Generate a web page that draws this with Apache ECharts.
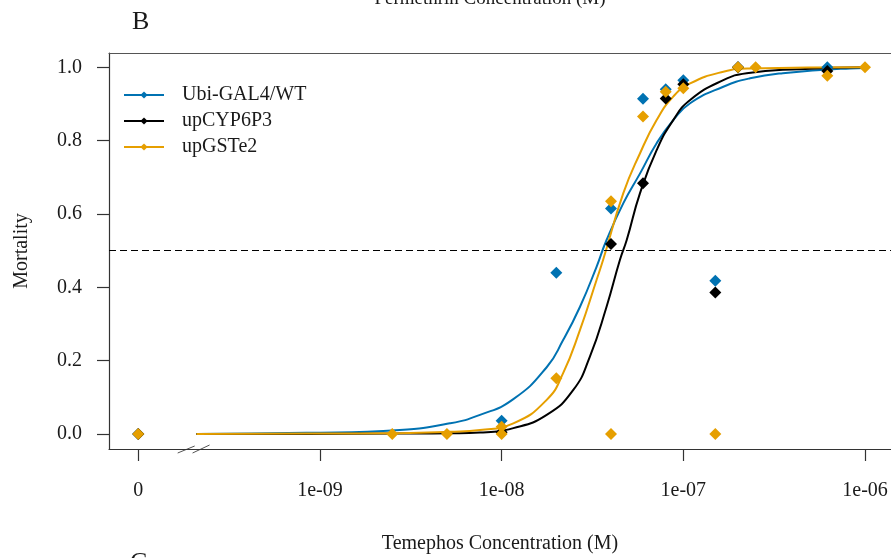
<!DOCTYPE html>
<html><head><meta charset="utf-8">
<script src="https://cdn.jsdelivr.net/npm/echarts@6/dist/echarts.min.js"></script>
<style>html,body{margin:0;padding:0;background:#fff}#c{width:891px;height:558px}</style>
</head><body><div id="c"></div>
<script>
// ---- data ----
const seriesNames = ['Ubi-GAL4/WT', 'upCYP6P3', 'upGSTe2'];
const seriesColors = ['#0072B2', '#000000', '#E69F00'];
const xTickValues = [0, 1e-9, 1e-8, 1e-7, 1e-6];
const xTickLabels = ['0', '1e-09', '1e-08', '1e-07', '1e-06'];
const yTickValues = [0, 0.2, 0.4, 0.6, 0.8, 1.0];
const yTickLabels = ['0.0', '0.2', '0.4', '0.6', '0.8', '1.0'];
const threshold = 0.5;

// observed mortality: [concentration (M), mortality]
const pointsWT = [[0,0],[1e-8,0.036],[2e-8,0.44],[4e-8,0.615],[6e-8,0.914],[8e-8,0.94],[1e-7,0.965],[1.5e-7,0.418],[2e-7,1.0],[6.2e-7,1.0]];
const pointsCYP = [[0,0],[1e-8,0.005],[4e-8,0.518],[6e-8,0.684],[8e-8,0.915],[1e-7,0.954],[1.5e-7,0.386],[2e-7,1.0],[6.2e-7,0.99]];
const pointsGST = [[0,0],[2.5e-9,0],[5e-9,0],[1e-8,0.02],[1e-8,0],[2e-8,0.152],[4e-8,0.635],[4e-8,0],[6e-8,0.866],[8e-8,0.933],[1e-7,0.943],[1.5e-7,0],[2e-7,1.0],[2.5e-7,1.0],[6.2e-7,0.977],[1e-6,1.0]];

// fitted dose-response curves
const curveWT = [[2.09e-10,0],[8.45e-10,0.003],[2.75e-9,0.011],[5.19e-9,0.029],[7.6e-9,0.052],[1.16e-8,0.095],[1.77e-8,0.182],[2.18e-8,0.256],[2.7e-8,0.347],[3.33e-8,0.456],[3.78e-8,0.529],[4.67e-8,0.629],[5.77e-8,0.71],[7.13e-8,0.793],[8.8e-8,0.856],[1.09e-7,0.902],[1.66e-7,0.947],[2.33e-7,0.97],[3.53e-7,0.984],[8.26e-7,0.997],[1e-6,0.998]];
const curveCYP = [[2.09e-10,0],[8.45e-10,0],[2.75e-9,0.001],[5.19e-9,0.002],[7.6e-9,0.004],[1.16e-8,0.016],[1.77e-8,0.052],[2.48e-8,0.12],[3.06e-8,0.211],[3.78e-8,0.347],[4.48e-8,0.475],[4.88e-8,0.529],[5.77e-8,0.656],[7.13e-8,0.774],[8.8e-8,0.856],[1.09e-7,0.911],[1.66e-7,0.965],[2.23e-7,0.984],[4.38e-7,0.995],[1e-6,1.0]];
const curveGST = [[2.09e-10,0],[8.45e-10,0.001],[2.75e-9,0.002],[5.19e-9,0.006],[7.6e-9,0.011],[1.16e-8,0.029],[1.77e-8,0.093],[2.18e-8,0.166],[2.7e-8,0.284],[3.33e-8,0.42],[3.62e-8,0.475],[4.67e-8,0.656],[5.77e-8,0.765],[7.13e-8,0.856],[8.8e-8,0.92],[1.09e-7,0.956],[1.66e-7,0.988],[2.33e-7,0.997],[1e-6,1.0]];

// ---- chart ----
const ZERO_POS = -10; // where concentration 0 sits on the broken log axis
const toX = c => (c === 0 ? ZERO_POS : Math.log10(c));
const mapPts = arr => arr.map(p => [toX(p[0]), p[1]]);
const FONT = 'Liberation Serif';
const TXT = '#1a1a1a';
const AX = '#333';

const xTickPos = xTickValues.map(toX);
const xLabelFor = v => {
  for (let k = 0; k < xTickPos.length; k++) if (Math.abs(v - xTickPos[k]) < 1e-6) return xTickLabels[k];
  return '';
};
const yLabelFor = v => {
  for (let k = 0; k < yTickValues.length; k++) if (Math.abs(v - yTickValues[k]) < 1e-6) return yTickLabels[k];
  return '';
};

const curves = [curveWT, curveCYP, curveGST];
const points = [pointsWT, pointsCYP, pointsGST];
const series = [];
curves.forEach((c, i) => series.push({
  name: seriesNames[i], type: 'line', data: mapPts(c),
  smooth: 0.5, symbol: 'diamond', showSymbol: false,
  lineStyle: { color: seriesColors[i], width: 2 }, itemStyle: { color: seriesColors[i] },
  silent: true, z: 2,
  markLine: i === 0 ? {
    silent: true, symbol: 'none', label: { show: false },
    lineStyle: { color: '#000', width: 1.2, type: [7, 4] },
    data: [{ yAxis: threshold }]
  } : undefined
}));
points.forEach((p, i) => series.push({
  name: seriesNames[i], type: 'scatter', data: mapPts(p),
  symbol: 'diamond', symbolSize: 12, itemStyle: { color: seriesColors[i], opacity: 1 }, z: 3
}));

const chart = echarts.init(document.getElementById('c'));
chart.setOption({
  animation: false,
  backgroundColor: '#fff',
  grid: { left: 109, top: 53, right: 0, bottom: 109, containLabel: false, outerBoundsMode: 'none' },
  legend: {
    orient: 'vertical', left: 118, top: 80, itemWidth: 40, itemHeight: 9, itemGap: 6,
    data: seriesNames,
    textStyle: { fontFamily: FONT, fontSize: 20, color: TXT, lineHeight: 20, padding: [0, 0, 0, 13] }
  },
  xAxis: [{
    type: 'value', min: -10.161, max: -5.857, position: 'bottom',
    axisLine: { show: true, onZero: false, lineStyle: { color: AX, width: 1.2 } },
    axisTick: { show: true, length: 12, customValues: xTickPos, lineStyle: { color: AX, width: 1.2 } },
    axisLabel: { customValues: xTickPos, formatter: xLabelFor, margin: 32, fontFamily: FONT, fontSize: 20, color: TXT },
    splitLine: { show: false },
    name: 'Temephos Concentration (M)', nameLocation: 'middle', nameGap: 85,
    nameTextStyle: { fontFamily: FONT, fontSize: 20, color: TXT }
  }, {
    type: 'value', min: -10.161, max: -5.857, position: 'top',
    axisLine: { show: true, onZero: false, lineStyle: { color: '#555', width: 1.2 } },
    axisTick: { show: false }, axisLabel: { show: false }, splitLine: { show: false }
  }],
  yAxis: {
    type: 'value', min: -0.041, max: 1.039,
    axisLine: { show: true, onZero: false, lineStyle: { color: AX, width: 1.2 } },
    axisTick: { show: true, length: 12, customValues: yTickValues, lineStyle: { color: AX, width: 1.2 } },
    axisLabel: { customValues: yTickValues, formatter: yLabelFor, margin: 27, fontFamily: FONT, fontSize: 20, color: TXT },
    splitLine: { show: false },
    name: 'Mortality', nameLocation: 'middle', nameGap: 77, nameRotate: 90,
    nameTextStyle: { fontFamily: FONT, fontSize: 20, color: TXT }
  },
  series: series
});

// decorations: panel letters, neighbouring panel title, axis break marks
const axisY = chart.convertToPixel({ gridIndex: 0 }, [ZERO_POS, -0.041])[1];
const b1 = chart.convertToPixel({ gridIndex: 0 }, [-9.783, -0.041])[0];
const b2 = chart.convertToPixel({ gridIndex: 0 }, [-9.701, -0.041])[0];
chart.setOption({
  graphic: [
    { type: 'text', left: 132, top: 9, style: { text: 'B', fontFamily: FONT, fontSize: 26, fill: TXT } },
    { type: 'text', left: 130, top: 550, style: { text: 'C', fontFamily: FONT, fontSize: 26, fill: TXT } },
    { type: 'text', x: 490, y: -10, style: { text: 'Permethrin Concentration (M)', fontFamily: FONT, fontSize: 19, fill: TXT, align: 'center' } },
    { type: 'line', shape: { x1: b1, y1: axisY + 4, x2: b1 + 17, y2: axisY - 3 }, style: { stroke: '#555', lineWidth: 1 } },
    { type: 'line', shape: { x1: b2, y1: axisY + 4, x2: b2 + 17, y2: axisY - 4 }, style: { stroke: '#555', lineWidth: 1 } }
  ]
});
</script></body></html>
